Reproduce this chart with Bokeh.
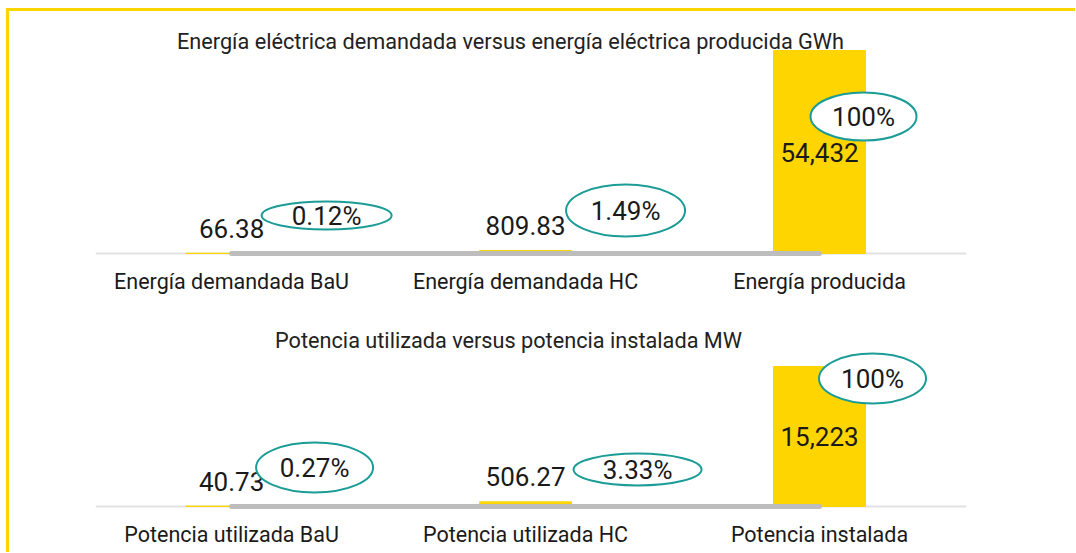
from bokeh.plotting import figure
from bokeh.layouts import column
from bokeh.models import Range1d, FixedTicker, Label, ColumnDataSource, Span
from bokeh.embed import file_html
from bokeh.resources import INLINE
from bokeh.core.properties import value

# ---------------- data ----------------
energy_title = "Energía eléctrica demandada versus energía eléctrica producida GWh"
energy_categories = ["Energía demandada BaU", "Energía demandada HC", "Energía producida"]
energy_values = [66.38, 809.83, 54432]

power_title = "Potencia utilizada versus potencia instalada MW"
power_categories = ["Potencia utilizada BaU", "Potencia utilizada HC", "Potencia instalada"]
power_values = [40.73, 506.27, 15223]

# ---------------- style / layout ----------------
FONT = "Roboto"
YELLOW = "#FFD500"
TEAL = "#1B9C96"
TEXT = "#1A1A1A"
BORDER = 3
ORIGIN_X = 9          # left edge of the figures on the page
W = 1066
MIN_LEFT = 95 - ORIGIN_X
FRAME_W = 871
X0, X1 = -0.463, 2.5
PX_PER_X = FRAME_W / (X1 - X0)
BELOW = 4             # px of frame below the baseline


def fmt_val(v):
    return f"{v:,.0f}" if float(v).is_integer() else f"{v:.2f}"


def fmt_pct(v, m):
    pc = v / m * 100
    return "100%" if abs(pc - 100) < 1e-9 else f"{pc:.2f}%"


def panel(cats, vals, title, height, above, bar_px, title_px, title_cx, ell):
    bottom = height - above - BELOW
    vmax = max(vals)
    upp = vmax / bar_px  # data units per pixel
    p = figure(width=W, height=height, x_range=Range1d(X0, X1),
               y_range=Range1d(-BELOW * upp, above * upp), y_axis_location=None,
               output_backend="svg", toolbar_location=None,
               min_border_left=MIN_LEFT, min_border_right=W - MIN_LEFT - FRAME_W,
               min_border_top=0, min_border_bottom=bottom)
    p.outline_line_color = None
    p.grid.visible = False
    p.background_fill_color = "white"
    p.border_fill_color = "white"

    idx = list(range(len(cats)))
    ax = p.xaxis[0]
    ax.ticker = FixedTicker(ticks=idx)
    ax.major_label_overrides = {i: c for i, c in zip(idx, cats)}
    ax.major_tick_line_color = None
    ax.minor_tick_line_color = None
    ax.major_tick_out = 0
    ax.major_label_standoff = 11
    ax.axis_line_color = None
    ax.major_label_text_font = FONT
    ax.major_label_text_font_size = "21.5px"
    ax.major_label_text_color = TEXT

    p.add_layout(Span(location=0, dimension="width", line_color="#E2E2E2",
                      line_width=2, level="underlay"))
    p.vbar(x=idx, top=vals, width=0.313, color=YELLOW)
    p.line(x=[idx[0], idx[-1]], y=[0, 0], line_width=5, line_color="#BDBDBD",
           line_cap="round")

    src = ColumnDataSource(dict(
        x=idx,
        y=[v / 2 if v == vmax else v for v in vals],
        yoff=[0 if v == vmax else -25 for v in vals],
        text=[fmt_val(v) for v in vals]))
    p.text(x="x", y="y", text="text", y_offset="yoff", source=src,
           text_align="center", text_baseline="middle",
           text_font=value(FONT), text_font_size="26px", text_color=TEXT)

    esrc = ColumnDataSource(dict(
        x=[i + e[0] / PX_PER_X for i, e in zip(idx, ell)],
        y=[e[1] * upp for e in ell],
        w=[e[2] for e in ell],
        h=[e[3] for e in ell],
        text=[fmt_pct(v, vmax) for v in vals]))
    p.ellipse(x="x", y="y", width="w", height="h", source=esrc,
              width_units="screen", height_units="screen",
              fill_color="white", line_color=TEAL, line_width=2)
    p.text(x="x", y="y", text="text", source=esrc, text_align="center",
           text_baseline="middle", text_font=value(FONT),
           text_font_size="26px", text_color=TEXT)

    p.add_layout(Label(x=X0 + (title_cx - 95) / PX_PER_X, y=title_px * upp,
                       text=title, text_align="center", text_baseline="middle",
                       text_font=FONT, text_font_size="21.7px", text_color="#222222"))
    return p


p1 = panel(energy_categories, energy_values, energy_title,
           height=289, above=242, bar_px=203, title_px=212, title_cx=510,
           ell=[(95, 38, 130, 28), (100, 43, 119, 52), (44, 137, 106, 48)])
p2 = panel(power_categories, power_values, power_title,
           height=252, above=206, bar_px=140, title_px=166, title_cx=508,
           ell=[(83, 39, 117, 50), (112, 37, 128, 32), (53, 128, 107, 50)])

layout = column(p1, p2, spacing=0,
                styles={"border-left": f"{BORDER}px solid {YELLOW}",
                        "border-top": f"{BORDER}px solid {YELLOW}",
                        "margin-left": "6px", "margin-top": "8px"})

open("out.html", "w").write(file_html(layout, INLINE))
